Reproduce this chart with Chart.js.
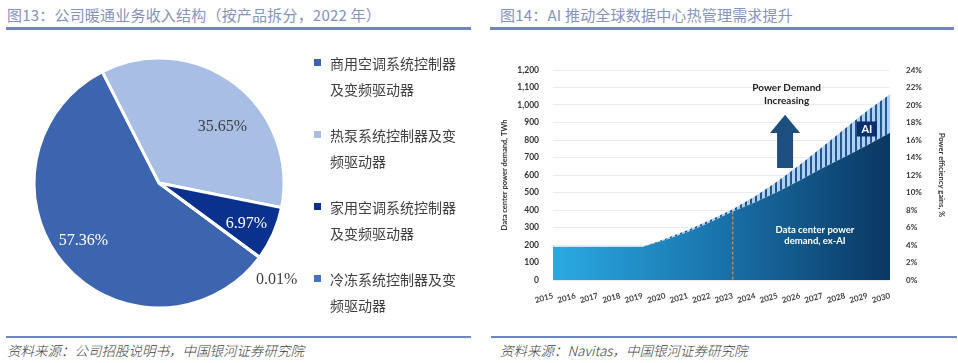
<!DOCTYPE html>
<html>
<head>
<meta charset="utf-8">
<script src="https://cdn.jsdelivr.net/npm/chart.js@4.4.1/dist/chart.umd.min.js"></script>
<style>
    html, body { margin: 0; padding: 0; background: #fff; }
    #page { position: relative; width: 958px; height: 363px; overflow: hidden; font-family: "Noto Sans CJK SC", sans-serif; }
    .title { position: absolute; top: 4px; font-size: 15px; letter-spacing: 0.2px; color: #8593bc; white-space: nowrap; }
    .rule { position: absolute; background: #6e87bf; }
    .source { position: absolute; top: 340px; font-size: 13.5px; font-weight: 300; color: #404040; font-style: italic; white-space: nowrap; }
    #legend { position: absolute; left: 314px; top: 50px; }
    .item { position: relative; padding-left: 16px; font-size: 14px; line-height: 26px; color: #404040; margin-bottom: 20px; }
    .item i { position: absolute; left: 0; top: 9px; width: 7px; height: 7px; }
    #pie { position: absolute; left: 0; top: 40px; }
    #demand { position: absolute; left: 490px; top: 42px; }
</style>
</head>
<body>
<div id="page">
    <div class="title" style="left:7px">图13：公司暖通业务收入结构（按产品拆分，2022 年）</div>
    <div class="rule" style="left:6px; top:27px; width:465px; height:2.5px"></div>
    <div class="title" style="left:500px">图14：AI 推动全球数据中心热管理需求提升</div>
    <div class="rule" style="left:490px; top:27px; width:464px; height:2.5px"></div>

    <canvas id="pie" width="318" height="286"></canvas>
    <div id="legend"></div>
    <canvas id="demand" width="468" height="275"></canvas>

    <div class="rule" style="left:6px; top:336px; width:465px; height:2px"></div>
    <div class="rule" style="left:491px; top:336px; width:466px; height:1.5px"></div>
    <div class="source" style="left:7px">资料来源：公司招股说明书，中国银河证券研究院</div>
    <div class="source" style="left:500px">资料来源：Navitas，中国银河证券研究院</div>
</div>

<script>
// ---- Pie data (figure 13) ----
const pieLabels = [
    ['商用空调系统控制器', '及变频驱动器'],
    ['热泵系统控制器及变', '频驱动器'],
    ['家用空调系统控制器', '及变频驱动器'],
    ['冷冻系统控制器及变', '频驱动器']
];
const pieValues = [57.36, 35.65, 6.97, 0.01];
const pieColors = ['#3d65af', '#a8bee4', '#0b318f', '#4472c4'];

// ---- Demand data (figure 14) ----
const years = ['2015', '2016', '2017', '2018', '2019', '2020', '2021', '2022',
               '2023', '2024', '2025', '2026', '2027', '2028', '2029', '2030'];
const exAiDemand = [190, 190, 190, 190, 190, 228, 274, 330, 392, 445, 505, 570, 640, 705, 772, 842];
const totalDemand = [190, 190, 190, 190, 190, 236, 286, 343, 404, 478, 565, 660, 762, 866, 968, 1062];
const rightTicks = [0, 2, 4, 6, 8, 10, 12, 14, 16, 18, 20, 22, 24];

// legend built from the labels
const legendEl = document.getElementById('legend');
pieLabels.forEach((lines, i) => {
    const div = document.createElement('div');
    div.className = 'item';
    div.innerHTML = '<i style="background:' + pieColors[i] + '"></i>' + lines.join('<br>');
    legendEl.appendChild(div);
});

/**
 * Percent labels on the pie slices
 */
const labelDist = [0.76, 0.68, 0.77, 1.22];
const labelShift = [3, 11, 1, 3];
const labelColor = ['#ffffff', '#404040', '#ffffff', '#404040'];

const sliceLabels = {
    id: 'sliceLabels',
    afterDatasetsDraw(chart) {
        const c = chart.ctx;
        const arcs = chart.getDatasetMeta(0).data;
        c.save();
        c.font = '16px "Liberation Serif", serif';
        c.textAlign = 'center';
        c.textBaseline = 'middle';
        arcs.forEach((arc, i) => {
            const mid = (arc.startAngle + arc.endAngle) / 2 + labelShift[i] * Math.PI / 180;
            const r = arc.outerRadius * labelDist[i];
            c.fillStyle = labelColor[i];
            c.fillText(pieValues[i].toFixed(2) + '%', arc.x + Math.cos(mid) * r, arc.y + Math.sin(mid) * r);
        });
        c.restore();
    }
};

new Chart(document.getElementById('pie'), {
    type: 'pie',
    data: {
        labels: pieLabels.map(l => l.join('')),
        datasets: [{
            data: pieValues,
            backgroundColor: pieColors,
            borderColor: '#fff',
            borderWidth: 3
        }]
    },
    options: {
        responsive: false,
        animation: false,
        radius: 125,
        rotation: 126.5,
        plugins: { legend: { display: false }, tooltip: { enabled: false } }
    },
    plugins: [sliceLabels]
});

/**
 * Demand chart (area + striped AI band)
 */
const stripe = document.createElement('canvas');
stripe.width = 5;
stripe.height = 4;
const sctx = stripe.getContext('2d');
sctx.fillStyle = '#aed0f2';
sctx.fillRect(0, 0, 5, 4);
sctx.fillStyle = '#24548f';
sctx.fillRect(0, 0, 2, 4);
const stripePattern = sctx.createPattern(stripe, 'repeat');

function areaGradient(context) {
    const { chart } = context;
    const area = chart.chartArea;
    if (!area) return '#1870a8';
    const g = chart.ctx.createLinearGradient(area.left, 0, area.right, 0);
    g.addColorStop(0, '#2aaae2');
    g.addColorStop(0.5, '#1a72aa');
    g.addColorStop(1, '#0a3762');
    return g;
}

const tickFont = { family: 'Lato', size: 8.5, weight: 'bold' };
const titleFont = { family: 'Lato', size: 7.5, weight: 'bold' };

const annotations = {
    id: 'annotations',
    afterDatasetsDraw(chart) {
        const c = chart.ctx;
        const x = chart.scales.x;
        const y = chart.scales.y;
        c.save();

        // dashed marker at 2023
        const i23 = years.indexOf('2023');
        const px = x.getPixelForValue(i23);
        c.strokeStyle = '#c9955e';
        c.lineWidth = 1.2;
        c.setLineDash([3, 2]);
        c.beginPath();
        c.moveTo(px, y.getPixelForValue(exAiDemand[i23]));
        c.lineTo(px, y.getPixelForValue(0));
        c.stroke();
        c.setLineDash([]);

        // arrow
        const ax = x.getPixelForValue(10.33);
        const top = y.getPixelForValue(945);
        const neck = y.getPixelForValue(840);
        const base = y.getPixelForValue(640);
        c.fillStyle = '#1d4f7e';
        c.beginPath();
        c.moveTo(ax, top);
        c.lineTo(ax + 15, neck);
        c.lineTo(ax + 8, neck);
        c.lineTo(ax + 8, base);
        c.lineTo(ax - 8, base);
        c.lineTo(ax - 8, neck);
        c.lineTo(ax - 15, neck);
        c.closePath();
        c.fill();

        c.textAlign = 'center';
        c.textBaseline = 'middle';
        c.fillStyle = '#222';
        c.font = 'bold 10px Lato';
        c.fillText('Power Demand', x.getPixelForValue(10.4), y.getPixelForValue(1097));
        c.fillText('Increasing', x.getPixelForValue(10.4), y.getPixelForValue(1022));

        // AI tag
        const bx = x.getPixelForValue(13.97);
        const by = y.getPixelForValue(863);
        c.fillStyle = '#0c2f6e';
        c.fillRect(bx - 10, by - 7.5, 20, 15);
        c.fillStyle = '#fff';
        c.font = 'bold 11px Lato';
        c.fillText('AI', bx, by + 0.5);

        c.font = 'bold 9.5px Lato';
        c.fillText('Data center power', x.getPixelForValue(11.66), y.getPixelForValue(288));
        c.fillText('demand, ex-AI', x.getPixelForValue(11.66), y.getPixelForValue(224));
        c.restore();
    }
};

new Chart(document.getElementById('demand'), {
    type: 'line',
    data: {
        labels: years,
        datasets: [
            {
                label: 'Data center power demand, ex-AI',
                data: exAiDemand,
                fill: 'origin',
                backgroundColor: areaGradient,
                borderWidth: 0,
                pointRadius: 0,
                tension: 0
            },
            {
                label: 'AI',
                data: totalDemand,
                fill: '-1',
                backgroundColor: stripePattern,
                borderWidth: 0,
                pointRadius: 0,
                tension: 0
            }
        ]
    },
    options: {
        responsive: false,
        animation: false,
        layout: { padding: { top: 28, right: 8, bottom: 0, left: 0 } },
        plugins: { legend: { display: false }, tooltip: { enabled: false } },
        scales: {
            x: {
                offset: false,
                grid: { display: false },
                border: { display: false },
                ticks: { font: { family: 'Lato', size: 8, weight: 'bold' }, color: '#444', minRotation: 15, maxRotation: 15, padding: 3, autoSkip: false },
                afterFit: function(scale) { scale.height = 37; }
            },
            y: {
                min: 0,
                max: 1200,
                grid: { color: '#ededed', drawTicks: false },
                border: { display: false },
                ticks: { stepSize: 100, font: tickFont, color: '#333', padding: 14 },
                title: { display: true, text: 'Data center power demand, TWh', font: titleFont, color: '#333', padding: { top: 10, bottom: 0 } },
                afterFit: function(scale) { scale.width = 63; }
            },
            y1: {
                position: 'right',
                min: rightTicks[0],
                max: rightTicks[rightTicks.length - 1],
                grid: { display: false, drawTicks: false },
                border: { display: false },
                ticks: { stepSize: 2, font: { family: 'Lato', size: 8, weight: 'bold' }, color: '#333', padding: 16,
                    callback: function(value) { return value + '%'; } },
                title: { display: true, text: 'Power efficiency gains, %', font: titleFont, color: '#333', padding: { top: 4, bottom: 0 } },
                afterFit: function(scale) { scale.width = 60; }
            }
        }
    },
    plugins: [annotations]
});
</script>
</body>
</html>
